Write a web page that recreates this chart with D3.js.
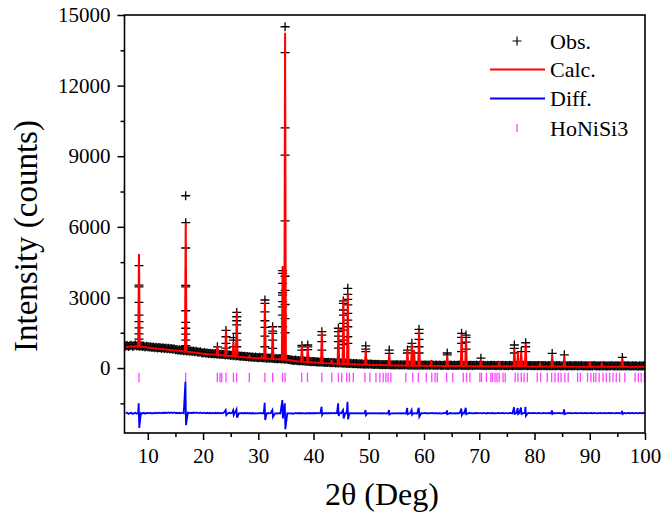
<!DOCTYPE html>
<html><head><meta charset="utf-8">
<script src="https://cdn.jsdelivr.net/npm/d3@7"></script>
<style>
body{margin:0;background:#fff}
svg{display:block}
text{font-family:"Liberation Serif","Tinos","Times New Roman","DejaVu Serif","Noto Serif",serif;fill:#000}
</style>
</head><body>
<svg id="c" width="664" height="521"></svg>
<script>
// ---------- axis ticks ----------
const xTicks = [10,20,30,40,50,60,70,80,90,100];
const xMinorTicks = [15,25,35,45,55,65,75,85,95];
const yTicks = [0,3000,6000,9000,12000,15000];
const yMinorTicks = [-1500,1500,4500,7500,10500,13500];

// ---------- calculated background (knots) ----------
const bgAngle  = [6,7,8,9,10,12,14,16,18,20,22,24,26,28,30,32,34,35.5,37,40,43,46,50,55,60,70,80,90,100];
const bgCounts = [900,915,930,900,870,820,770,720,670,610,570,530,490,450,420,390,370,340,290,240,200,170,135,110,95,80,70,60,55];

// ---------- observed background points (6.00 .. 100.00 every 0.25 deg) ----------
const obsStart = 6, obsStep = 0.25;
const obsCounts = [
 932,958,911,945,967,921,950,976,940,962,925,948,915,938,897,921,905,
 893,908,871,889,862,884,851,872,857,836,865,829,848,822,839,811,826,798,815,779,
 788,761,774,749,765,738,752,729,744,718,731,703,722,694,709,681,669,690,652,641,
 655,628,644,619,633,607,621,598,614,589,603,578,592,571,584,556,575,549,563,538,
 552,527,541,516,530,508,497,514,486,501,475,489,468,481,459,473,447,465,452,441,
 459,436,448,428,440,417,431,412,426,404,418,397,410,389,403,392,381,398,376,388,
 377,366,352,341,333,322,338,314,325,303,316,297,306,284,299,278,290,269,283,265,
 276,258,270,251,262,244,255,239,249,232,243,226,238,221,233,216,229,212,224,209,
 218,202,213,197,206,190,201,186,194,179,190,174,185,169,181,166,176,160,172,163,
 170,156,166,151,162,148,158,144,155,141,152,138,149,136,146,133,145,130,142,136,
 144,131,140,127,138,124,136,129,121,134,126,119,132,123,117,129,120,131,118,126,
 133,119,128,116,124,131,114,122,127,112,125,118,109,123,129,113,120,108,126,117,
 111,124,106,119,115,127,110,118,104,121,113,107,122,116,103,119,111,124,108,114,
 116,104,121,109,99,117,112,103,120,107,114,98,111,118,102,109,115,97,113,106,
 101,117,108,95,112,104,116,99,107,111,96,114,103,109,98,112,105,94,110,101,
 107,96,112,101,93,108,99,104,91,110,97,102,94,106,89,103,98,108,92,100,
 95,105,88,101,96,107,90,99,94,103,87,100,93,105,89,97,102,86,98,92,
 99,88,104,93,85,97,91,102,86,95,100,84,92,98,87,103,90,83,96,89,
 101,85,94,88,99,82,93,97,86,91,100,84,95,88,81,96,90,85,98,87
];

// ---------- Bragg peaks: position, calculated top, observed points on the peak ----------
const peakAngle = [8.4,16.86,22.6,24.15,25.5,26.1,28.4,30.6,31.2,32.6,34.4,34.85,37.9,38.95,41.5,43.3,44.5,45.4,46.2,49.45,53.7,57.0,57.8,58.2,59.1,61.3,64.2,66.8,67.6,70.3,73.6,76.35,77.0,77.6,78.4,81.0,83.2,85.4,90.0,92.2,95.9];
const peakCalc  = [4850,6150,930,1615,1120,2390,510,480,2820,1785,4300,14250,980,935,1545,340,1690,2960,3175,795,625,765,1050,765,1585,340,550,1445,1300,340,270,835,695,690,1020,225,550,510,260,220,410];
const peakObs = [
 [4350,3520,3450,2790,2250,1970,1710,1450,1230,1100],
 [7320,6175,5100,3515,3450,2435,1940,1690,1445,1190,950],
 [900],
 [1600,1330,1050,850],
 [1290,1190,900],
 [2365,2180,2010,1830,1475,1190,905],
 [],
 [],
 [2890,2750,2390,2010,1730,1360,905],
 [1755,1570,1475,1190,835],
 [4135,4025,3600,3200,3100,2820,2600,2250,1755],
 [14500,13400,10200,9050,6250,3900,3300,2700,2100,1500],
 [960,900,760],
 [980,900,780],
 [1545,1400,1120,765],
 [],
 [1690,1545,1360,1120,850],
 [2850,2750,2465,2250,1900,1615,1190,1000],
 [3385,3130,2920,2680,2320,2040,1755,1330,1050],
 [940,800,700],
 [765,625],
 [765,640],
 [1050,900],
 [],
 [1645,1475,1220,905,640],
 [],
 [640,560],
 [1475,1305,1050,700],
 [1400,1300,1100,800],
 [420],
 [],
 [980,835,640],
 [],
 [700],
 [1075,905,700],
 [],
 [620],
 [560],
 [],
 [],
 [450]
];

// ---------- difference curve spikes ----------
const diffOffset = -1950;
const diffAngle = [8.4,16.86,24.15,25.5,26.1,31.2,32.6,34.4,34.85,41.5,44.5,45.4,46.2,49.45,53.7,57.0,57.8,59.1,64.2,66.8,67.6,76.35,77.0,77.6,78.4,83.2,85.4,95.9];
const diffHigh  = [-1500,-580,-1780,-1800,-1755,-1475,-1785,-1360,-1500,-1645,-1500,-1785,-1430,-1785,-1785,-1700,-1785,-1690,-1800,-1720,-1690,-1670,-1700,-1680,-1645,-1800,-1755,-1820];
const diffLow   = [-2550,-2420,-2000,-2000,-2110,-2210,-2080,-2140,-2600,-1995,-2040,-2140,-2180,-2000,-1970,-1960,-1980,-2070,-1960,-1990,-2000,-1980,-1960,-1990,-2030,-1950,-1960,-1950];

// ---------- HoNiSi3 reflection positions ----------
const reflAngle = [8.4,16.86,22.58,23.07,23.38,24.15,25.5,26.08,28.37,31.2,32.6,34.4,34.85,37.85,38.9,41.5,43.3,44.5,45.1,46.0,46.5,47.2,49.3,50.2,51.3,52.0,52.6,53.1,53.5,54.0,56.7,57.95,58.97,60.4,61.4,62.0,62.4,64.1,65.2,67.1,67.7,68.3,70.1,70.4,71.3,72.1,72.4,72.85,73.2,73.6,74.3,74.7,76.5,77.0,77.6,78.1,78.7,80.5,81.1,82.3,83.1,83.7,84.3,84.8,85.5,86.1,87.8,88.3,89.6,90.2,90.7,91.1,91.7,92.4,93.0,93.6,94.2,94.8,95.4,96.35,98.2,98.8,99.3,99.9];
const reflTop = -200, reflBottom = -600;

const legendLabels = ["Obs.","Calc.","Diff.","HoNiSi3"];

// ---------- layout ----------
const SERIF = "'Liberation Serif','Tinos','Times New Roman','DejaVu Serif','Noto Serif',serif";
const L = 124.5, R = 645, T = 15, B = 433;
const svg = d3.select("#c");
svg.append("rect").attr("width",664).attr("height",521).attr("fill","#fff");

const x = d3.scaleLinear().domain([5.78,100]).range([L,R]);
const y = d3.scaleLinear().domain([-2760,15000]).range([B,T]);
const base = d3.scaleLinear().domain(bgAngle).range(bgCounts);

svg.append("defs").append("clipPath").attr("id","clip")
  .append("rect").attr("x",L).attr("y",T).attr("width",R-L).attr("height",B-T);
const plot = svg.append("g").attr("clip-path","url(#clip)");

// observed points
const obsPts = obsCounts.map((c,i)=>[obsStart+i*obsStep,c]);
const peakPts = [];
peakAngle.forEach((p,i)=>peakObs[i].forEach(v=>peakPts.push([p,v])));
const allObs = obsPts.concat(peakPts);
const h = 4.5;
const plusPath = allObs.map(d=>{
  const px=x(d[0]), py=y(d[1]);
  return `M${px-h},${py}H${px+h}M${px},${py-h}V${py+h}`;
}).join("");
plot.append("path").attr("d",plusPath).attr("stroke","#000").attr("stroke-width",1.3).attr("fill","none");

// calculated curve
const calcPts = [];
bgAngle.forEach((a,i)=>{ if(!peakAngle.some(p=>Math.abs(p-a)<0.2)) calcPts.push([a,bgCounts[i]]); });
peakAngle.forEach((p,i)=>{
  calcPts.push([p-0.14,base(p-0.14)],[p,peakCalc[i]],[p+0.14,base(p+0.14)]);
});
calcPts.sort((a,b)=>a[0]-b[0]);
const line = d3.line().x(d=>x(d[0])).y(d=>y(d[1]));
plot.append("path").attr("d",line(calcPts)).attr("fill","none").attr("stroke","#ff0000").attr("stroke-width",2);

// reflection ticks
plot.selectAll("line.refl").data(reflAngle).join("line").attr("class","refl")
  .attr("x1",d=>x(d)).attr("x2",d=>x(d)).attr("y1",y(reflTop)).attr("y2",y(reflBottom))
  .attr("stroke","#ff44ff").attr("stroke-width",1.3);

// difference curve
const diffPts = [];
obsPts.forEach(d=>{
  if(!diffAngle.some(p=>Math.abs(p-d[0])<0.15)) diffPts.push([d[0], diffOffset + d[1] - base(d[0])]);
});
diffAngle.forEach((p,i)=>{ diffPts.push([p-0.05,diffHigh[i]],[p+0.05,diffLow[i]]); });
diffPts.sort((a,b)=>a[0]-b[0]);
plot.append("path").attr("d",line(diffPts)).attr("fill","none").attr("stroke","#0000ff").attr("stroke-width",1.8);

// axes
const fs = "21px";
const xa = svg.append("g").attr("transform",`translate(0,${B})`)
  .call(d3.axisBottom(x).tickValues(xTicks).tickSize(7).tickPadding(8).tickFormat(d3.format("d")));
xa.attr("font-family",null);
xa.select(".domain").remove();
xa.selectAll("text").style("font-size",fs).style("font-family",SERIF).attr("fill","#000");
xa.selectAll("line").attr("stroke","#000").attr("stroke-width",1.5);
const xm = svg.append("g").attr("transform",`translate(0,${B})`)
  .call(d3.axisBottom(x).tickValues(xMinorTicks).tickSize(4).tickFormat(""));
xm.select(".domain").remove();
xm.selectAll("line").attr("stroke","#000").attr("stroke-width",1.5);

const ya = svg.append("g").attr("transform",`translate(${L},0)`)
  .call(d3.axisLeft(y).tickValues(yTicks).tickSize(7).tickPadding(7).tickFormat(d3.format("d")));
ya.attr("font-family",null);
ya.select(".domain").remove();
ya.selectAll("text").style("font-size",fs).style("font-family",SERIF).attr("fill","#000");
ya.selectAll("line").attr("stroke","#000").attr("stroke-width",1.5);
const ym = svg.append("g").attr("transform",`translate(${L},0)`)
  .call(d3.axisLeft(y).tickValues(yMinorTicks).tickSize(4).tickFormat(""));
ym.select(".domain").remove();
ym.selectAll("line").attr("stroke","#000").attr("stroke-width",1.5);

// frame
svg.append("rect").attr("x",L).attr("y",T).attr("width",R-L).attr("height",B-T)
  .attr("fill","none").attr("stroke","#000").attr("stroke-width",1.6);

// axis titles
svg.append("text").attr("x",382).attr("y",505).attr("text-anchor","middle")
  .style("font-family",SERIF).style("font-size","32px").text("2θ (Deg)");
svg.append("text").attr("transform","translate(37,236) rotate(-90)").attr("text-anchor","middle")
  .style("font-family",SERIF).style("font-size","33px").text("Intensity (counts)");

// legend
const lg = svg.append("g");
const rowsY = [41,69.5,98.5,128];
const tx = 550;
lg.append("path").attr("d",`M${517-4.5},${rowsY[0]}H${517+4.5}M517,${rowsY[0]-4.5}V${rowsY[0]+4.5}`)
  .attr("stroke","#000").attr("stroke-width",1.2);
lg.append("line").attr("x1",490).attr("x2",545).attr("y1",rowsY[1]).attr("y2",rowsY[1]).attr("stroke","#ff0000").attr("stroke-width",2);
lg.append("line").attr("x1",490).attr("x2",545).attr("y1",rowsY[2]).attr("y2",rowsY[2]).attr("stroke","#0000ff").attr("stroke-width",2);
lg.append("line").attr("x1",517).attr("x2",517).attr("y1",rowsY[3]-4).attr("y2",rowsY[3]+4).attr("stroke","#ff44ff").attr("stroke-width",1.3);
legendLabels.forEach((t,i)=>{
  lg.append("text").attr("x",tx).attr("y",rowsY[i]+7.5).style("font-family",SERIF).style("font-size","22px").text(t);
});
</script>
</body></html>
